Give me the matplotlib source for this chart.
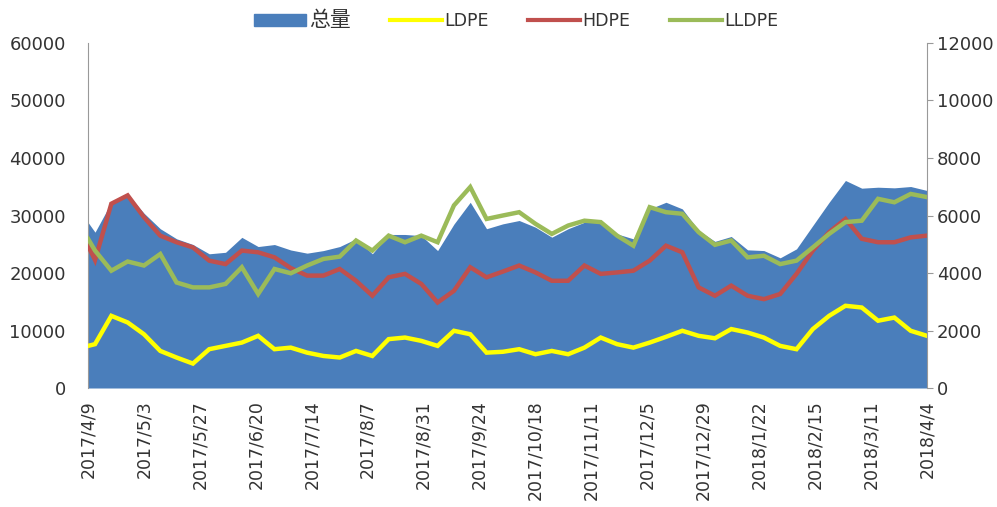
import numpy as np
import pandas as pd
import matplotlib
matplotlib.use('Agg')
import matplotlib.pyplot as plt
from matplotlib.patches import Patch
from matplotlib.lines import Line2D

plt.rcParams['font.family'] = ['DejaVu Sans', 'Noto Sans CJK SC']

# 日期: 首个点 2017/4/9, 之后每周三
dates = [pd.Timestamp('2017-04-09')] + list(pd.date_range('2017-04-12', periods=52, freq='7D'))

total = [28800, 27100, 32300, 33700, 30400, 27700, 25950, 24960, 23340, 23600,
         26200, 24600, 24950, 24000, 23450, 23900, 24600, 25950, 23340, 26700,
         26700, 26500, 23900, 28500, 32300, 27700, 28550, 29130, 27960, 26230,
         27700, 28830, 28830, 26800, 25940, 31150, 32300, 31150, 27390, 25500,
         26350, 24030, 23900, 22640, 24200, 28260, 32300, 36090, 34750, 34920,
         34810, 35040, 34350]

ldpe = [1465, 1525, 2510, 2280, 1870, 1290, 1060, 850, 1350, 1465,
        1580, 1815, 1350, 1405, 1230, 1115, 1060, 1290, 1115, 1700,
        1755, 1640, 1465, 1990, 1870, 1230, 1260, 1350, 1175, 1290,
        1175, 1405, 1755, 1525, 1405, 1580, 1780, 1990, 1815, 1730,
        2050, 1930, 1755, 1465, 1350, 2050, 2510, 2860, 2800, 2340,
        2450, 1990, 1815]

hdpe = [4950, 4450, 6410, 6700, 5940, 5300, 5070, 4890, 4430, 4310,
        4780, 4720, 4545, 4170, 3910, 3910, 4140, 3730, 3210, 3850,
        3970, 3620, 2975, 3380, 4200, 3850, 4050, 4260, 4020, 3730,
        3730, 4260, 3970, 4020, 4080, 4430, 4950, 4720, 3500, 3210,
        3560, 3210, 3090, 3270, 3970, 4780, 5420, 5880, 5190, 5070,
        5070, 5240, 5300]

lldpe = [5190, 4780, 4080, 4400, 4260, 4660, 3670, 3500, 3500, 3620,
         4200, 3270, 4140, 3990, 4260, 4490, 4570, 5130, 4780, 5300,
         5070, 5300, 5070, 6350, 6990, 5880, 6000, 6115, 5710, 5360,
         5650, 5820, 5770, 5300, 4950, 6290, 6115, 6060, 5420, 4980,
         5130, 4545, 4600, 4310, 4430, 4890, 5360, 5770, 5820, 6580,
         6460, 6750, 6640]

tick_dates = pd.date_range('2017-04-09', periods=16, freq='24D')

blue = '#4a7ebb'
c_ldpe = '#ffff00'
c_hdpe = '#c0504d'
c_lldpe = '#9bbb59'
txt = '#333333'

fig = plt.figure(figsize=(9.97, 5.07), dpi=100)
ax = fig.add_axes([0.0883, 0.2347, 0.8415, 0.6805])
ax2 = ax.twinx()

ax.fill_between(dates, total, 0, color=blue, lw=0)
ax.set_ylim(0, 60000)
ax.set_yticks(np.arange(0, 60001, 10000))
ax.set_xlim(dates[0], dates[-1])

ax2.plot(dates, ldpe, color=c_ldpe, lw=3.2, solid_joinstyle='miter')
ax2.plot(dates, hdpe, color=c_hdpe, lw=3.2, solid_joinstyle='miter')
ax2.plot(dates, lldpe, color=c_lldpe, lw=3.2, solid_joinstyle='miter')
ax2.set_ylim(0, 12000)
ax2.set_yticks(np.arange(0, 12001, 2000))

ax.set_xticks(tick_dates)
ax.set_xticklabels([f'{d.year}/{d.month}/{d.day}' for d in tick_dates],
                   rotation=90, fontsize=12.5, color=txt)

for a in (ax, ax2):
    for s in a.spines.values():
        s.set_visible(False)
ax.spines['left'].set_visible(True)
ax.spines['left'].set_color('#999999')
ax2.spines['right'].set_visible(True)
ax2.spines['right'].set_color('#999999')

ax.tick_params(axis='y', length=0, pad=16, labelsize=13, labelcolor=txt)
ax.tick_params(axis='x', length=0, pad=9)
ax2.tick_params(axis='y', length=4, width=0.8, color='#999999', pad=3,
                labelsize=13, labelcolor=txt)

handles = [Patch(color=blue),
           Line2D([], [], color=c_ldpe, lw=3),
           Line2D([], [], color=c_hdpe, lw=3),
           Line2D([], [], color=c_lldpe, lw=3)]
leg = fig.legend(handles, ['总量', 'LDPE', 'HDPE', 'LLDPE'], loc='center',
                 bbox_to_anchor=(0.518, 0.96), ncol=4, frameon=False, fontsize=12.5,
                 handlelength=3.0, handletextpad=0.15, columnspacing=2.25,
                 labelcolor=txt)
leg.get_texts()[0].set_fontsize(15)

fig.savefig('out.png', dpi=100)
